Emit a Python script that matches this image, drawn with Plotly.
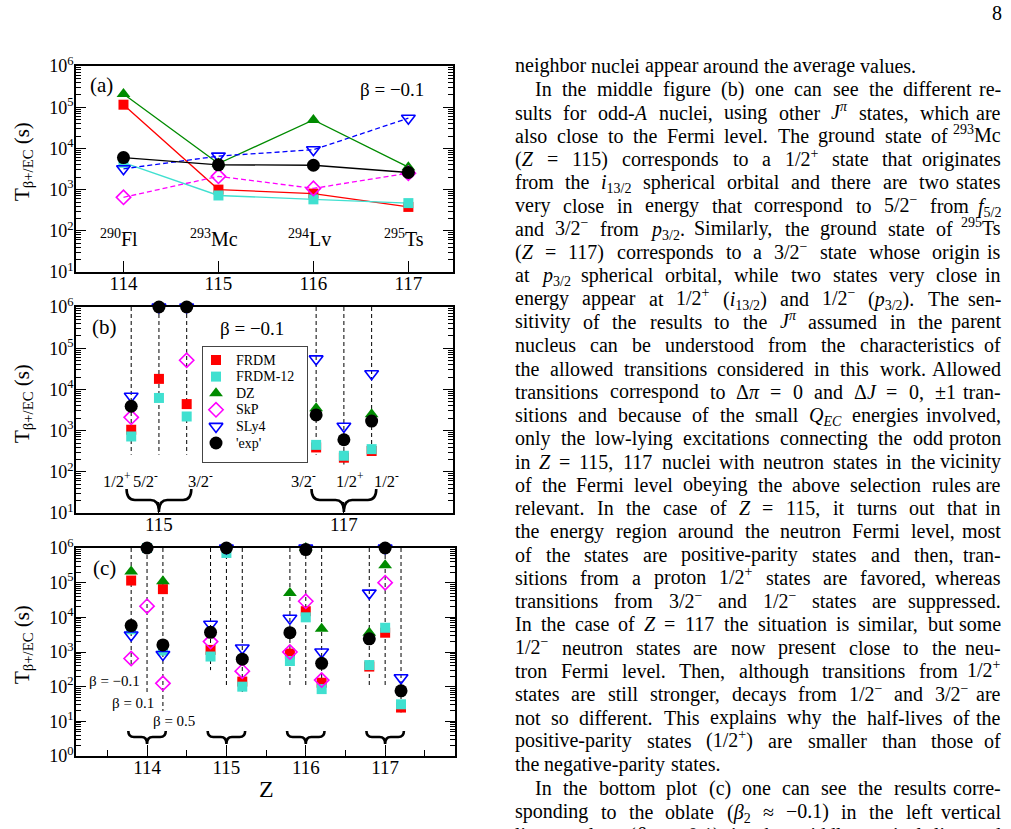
import plotly.graph_objects as go

W, H = 1011, 829
FONT = "Liberation Serif"

# ---------------- data ----------------
series_names = ["FRDM", "FRDM-12", "DZ", "SkP", "SLy4", "'exp'"]

# panel (a): beta = -0.1, ground states
Z_a = [114, 115, 116, 117]
nuclei_a = ["<sup>290</sup>Fl", "<sup>293</sup>Mc", "<sup>294</sup>Lv", "<sup>295</sup>Ts"]
a_FRDM = [1.15e5, 1.0e3, 8.0e2, 3.8e2]
a_FRDM12 = [4.5e3, 7.2e2, 5.8e2, 4.7e2]
a_DZ = [2.1e5, 4.3e3, 4.9e4, 3.5e3]
a_SkP = [6.5e2, 2.1e3, 1.07e3, 2.5e3]
a_SLy4 = [3.2e3, 6.5e3, 9.3e3, 5.4e4]
a_exp = [6.0e3, 4.0e3, 3.9e3, 2.6e3]

# panel (b): beta = -0.1, other J^pi states of odd-A nuclei
b_x = [114.7, 115.0, 115.3, 116.7, 117.0, 117.3]
b_states = ["1/2<sup>+</sup>", "5/2<sup>-</sup>", "3/2<sup>-</sup>",
            "3/2<sup>-</sup>", "1/2<sup>+</sup>", "1/2<sup>-</sup>"]
b_FRDM = [1.05e3, 1.8e4, 4.4e3, 3.9e2, 2.2e2, 3.2e2]
b_FRDM12 = [7.2e2, 6.2e3, 2.2e3, 4.5e2, 2.45e2, 3.55e2]
b_DZ = [None, None, None, 3.5e3, None, 2.5e3]
b_SkP = [2.1e3, None, 5.1e4, None, None, None]
b_SLy4 = [6.8e3, 1e6, 1e6, 5.5e4, 1.27e3, 2.4e4]
b_exp = [3.9e3, 1e6, 1e6, 2.4e3, 6.0e2, 1.7e3]
b_line_low = [260, 260, 260, 260, 150, 320]
b_groups = [115, 117]

# panel (c): beta = -0.1, 0.1, 0.5
c_x = [113.8, 114.0, 114.2, 114.8, 115.0, 115.2,
       115.8, 116.0, 116.2, 116.8, 117.0, 117.2]
c_FRDM = [1.15e5, None, 6.5e4, 1.15e3, None, 1.4e2, 9.0e2, 1.5e4, 1.3e2, 3.8e2, 3.6e3, 25]
c_FRDM12 = [4.5e3, 1e6, 1.1e3, 7.4e2, 7.2e5, 1.0e2, 5.5e2, 1.0e4, 85, 4.2e2, 5.0e3, 31]
c_DZ = [2.1e5, None, 1.1e5, None, None, None, 5.0e4, 1e6, 4.7e3, 3.6e3, 3.2e5, None]
c_SkP = [6.5e2, 2.1e4, 1.25e2, 2.0e3, None, 2.8e2, 1.0e3, 2.9e4, 1.55e2, None, 1.0e5, None]
c_SLy4 = [3.1e3, None, 8.5e2, 6.3e3, 1e6, 1.3e3, 9.4e3, 1e6, 1.0e3, 5.0e4, 1e6, 1.8e2]
c_exp = [5.8e3, 1e6, 1.6e3, 3.7e3, 1e6, 6.2e2, 3.6e3, 9.0e5, 4.7e2, 2.4e3, 1e6, 76]
c_line_low = [380, 70, 20, 300, 100, 70, 100, 100, 90, 100, 100, 18]
c_groups = [114, 115, 116, 117]
c_beta_labels = ["β = −0.1", "β = 0.1", "β = 0.5"]

# ---------------- styles ----------------
styles = {
    "FRDM": dict(symbol="square", color="#ff0000", size=10, dash="solid"),
    "FRDM-12": dict(symbol="square", color="#40e0d0", size=10, dash="solid"),
    "DZ": dict(symbol="triangle-up", color="#008b00", size=12, dash="solid"),
    "SkP": dict(symbol="diamond-open", color="#ff00ff", size=11, dash="5px,3px"),
    "SLy4": dict(symbol="triangle-down-open", color="#0000ff", size=12, dash="5px,3px"),
    "'exp'": dict(symbol="circle", color="#000000", size=13, dash="solid"),
}


def px_x(x):
    return x / W


def px_y(y):
    return 1 - y / H


fig = go.Figure()


def marker_of(name):
    s = styles[name]
    open_ = "open" in s["symbol"]
    return dict(symbol=s["symbol"], color=s["color"], size=s["size"],
                line=dict(width=1.6 if open_ else 0, color=s["color"]))


# vertical dashed lines (b), (c)
def vlines(xs, lows, xa, ya):
    xx, yy = [], []
    for xv, lo in zip(xs, lows):
        xx += [xv, xv, None]
        yy += [1e6, lo, None]
    fig.add_trace(go.Scatter(x=xx, y=yy, mode="lines", xaxis=xa, yaxis=ya,
                             line=dict(color="black", width=1, dash="4px,3px"),
                             showlegend=False, hoverinfo="skip", cliponaxis=False))


vlines(b_x, b_line_low, "x2", "y2")
vlines(c_x, c_line_low, "x3", "y3")

a_data = [a_FRDM, a_FRDM12, a_DZ, a_SkP, a_SLy4, a_exp]
b_data = [b_FRDM, b_FRDM12, b_DZ, b_SkP, b_SLy4, b_exp]
c_data = [c_FRDM, c_FRDM12, c_DZ, c_SkP, c_SLy4, c_exp]

for name, ys in zip(series_names, a_data):
    s = styles[name]
    fig.add_trace(go.Scatter(x=Z_a, y=ys, mode="lines+markers", xaxis="x", yaxis="y",
                             line=dict(color=s["color"], width=1.3, dash=s["dash"]),
                             marker=marker_of(name), showlegend=False, cliponaxis=False))
for name, ys in zip(series_names, b_data):
    fig.add_trace(go.Scatter(x=b_x, y=ys, mode="markers", xaxis="x2", yaxis="y2",
                             marker=marker_of(name), name=name, showlegend=False,
                             cliponaxis=False))
for name, ys in zip(series_names, c_data):
    fig.add_trace(go.Scatter(x=c_x, y=ys, mode="markers", xaxis="x3", yaxis="y3",
                             marker=marker_of(name), showlegend=False, cliponaxis=False))

# legend of panel (b): one symbol per series, row = series order
for i, name in enumerate(series_names):
    fig.add_trace(go.Scatter(x=[0], y=[i], mode="markers", xaxis="x4", yaxis="y4",
                             marker=marker_of(name), showlegend=False, hoverinfo="skip",
                             cliponaxis=False))


# ---------------- axes ----------------
def xaxis(dom, rng, anchor, tickvals, minor_vals=None):
    d = dict(domain=dom, range=rng, anchor=anchor, showline=True, linecolor="black",
             linewidth=1.6, mirror=True, ticks="inside", ticklen=11, tickwidth=1.2,
             tickcolor="black", tickmode="array", tickvals=tickvals,
             ticktext=[str(v) for v in tickvals],
             tickfont=dict(family=FONT, size=19, color="black"), showgrid=False,
             zeroline=False, automargin=False, ticklabelstandoff=-7)
    if minor_vals:
        d["minor"] = dict(ticks="inside", ticklen=6, tickwidth=1, tickcolor="black",
                          tickmode="array", tickvals=minor_vals, showgrid=False)
    return d


def yaxis(dom, lo, hi, anchor):
    vals = [10 ** k for k in range(lo, hi + 1)]
    text = ["10<sup>%d</sup>" % k for k in range(lo, hi + 1)]
    return dict(type="log", domain=dom, range=[lo, hi], anchor=anchor, showline=True,
                linecolor="black", linewidth=1.6, mirror="allticks", ticks="inside",
                ticklen=10, tickwidth=1.2, tickcolor="black", tickmode="array",
                tickvals=vals, ticktext=text,
                tickfont=dict(family=FONT, size=18, color="black"),
                minor=dict(ticks="inside", ticklen=5, tickwidth=1, tickcolor="black",
                           dtick="D1", showgrid=False),
                showgrid=False, zeroline=False, automargin=False, ticklabelstandoff=-3)


dom_x_ab = [px_x(76), px_x(453)]
dom_x_c = [px_x(76), px_x(455)]
LEG_L, LEG_R, LEG_T, LEG_B, ROW0, ROWH = 203, 307, 347, 462, 360, 16.6
fig.update_layout(
    xaxis=xaxis(dom_x_ab, [113.5, 117.47], "y", Z_a),
    yaxis=yaxis([px_y(272), px_y(66)], 1, 6, "x"),
    xaxis2=xaxis(dom_x_ab, [114.103, 118.18], "y2", b_groups),
    yaxis2=yaxis([px_y(513), px_y(307)], 1, 6, "x2"),
    xaxis3=xaxis(dom_x_c, [113.105, 117.88], "y3", c_groups,
                 minor_vals=[113.5, 114.5, 115.5, 116.5, 117.5]),
    yaxis3=yaxis([px_y(756), px_y(548)], 0, 6, "x3"),
    xaxis4=dict(domain=[px_x(LEG_L), px_x(LEG_R)], range=[-13, LEG_R - LEG_L - 13],
                anchor="y4", showline=True, mirror=True, linecolor="#444444",
                linewidth=1, showticklabels=False, ticks="", showgrid=False,
                zeroline=False, fixedrange=True),
    yaxis4=dict(domain=[px_y(LEG_B), px_y(LEG_T)],
                range=[(LEG_B - ROW0) / ROWH, -(ROW0 - LEG_T) / ROWH],
                anchor="x4", showline=True, mirror=True, linecolor="#444444",
                linewidth=1, showticklabels=False, ticks="", showgrid=False,
                zeroline=False, fixedrange=True),
)

# ---------------- annotations ----------------
ann = []


def txt(text, x, y, size, xref="paper", yref="paper", xanchor="center",
        yanchor="middle", angle=0, family=FONT, **kw):
    ann.append(dict(text=text, x=x, y=y, xref=xref, yref=yref, xanchor=xanchor,
                    yanchor=yanchor, showarrow=False, textangle=angle,
                    font=dict(family=family, size=size, color="black"), **kw))


# legend texts
for i, name in enumerate(series_names):
    txt(name, 18, i, 14, xref="x4", yref="y4", xanchor="left")

# y titles
for yc in [162, 404, 645]:
    txt("T<sub>β+/EC</sub> (s)", px_x(23), px_y(yc), 21, angle=-90)
txt("Z", px_x(266), px_y(789), 24)

# panel labels
txt("(a)", px_x(101), px_y(85), 21)
txt("(b)", px_x(104), px_y(327), 21)
txt("(c)", px_x(104), px_y(568), 21)
txt("β = −0.1", px_x(392), px_y(90), 19)
txt("β = −0.1", px_x(252), px_y(328), 19)

for z, lab in zip(Z_a, nuclei_a):
    txt(lab, z, px_y(238), 20, xref="x", xshift=-4)

b_label_shift = [-14, -13, 14, -13, 6, 15]
for xv, lab, sh in zip(b_x, b_states, b_label_shift):
    txt(lab, xv, px_y(480), 16.5, xref="x2", xshift=sh)

for lab, (cx, cy) in zip(c_beta_labels, [(114.5, 681), (133, 703), (174, 721)]):
    txt(lab, px_x(cx), px_y(cy), 15)

# braces
shapes = []


def brace(xc, half, ytop, ymid, ybot, xref, q):
    xl, xr = xc - half, xc + half
    yt, ym, yb = px_y(ytop), px_y(ymid), px_y(ybot)
    p = (f"M {xl},{yt} Q {xl},{ym} {xl + q},{ym} L {xc - q},{ym} "
         f"Q {xc},{ym} {xc},{yb} Q {xc},{ym} {xc + q},{ym} L {xr - q},{ym} "
         f"Q {xr},{ym} {xr},{yt}")
    shapes.append(dict(type="path", path=p, xref=xref, yref="paper",
                       line=dict(color="black", width=2.6)))


for g in b_groups:
    brace(g, 0.35, 489, 500, 512, "x2", 0.09)
for g in c_groups:
    brace(g, 0.236, 731, 737, 744, "x3", 0.07)

# ---------------- page text (justified column) ----------------
TF = "Liberation Serif"
TS = 20
ROMAN = {" ": 250, "!": 333, "'": 333, "(": 333, ")": 333, "+": 564, ",": 250,
         "-": 333, ".": 250, "/": 278, ":": 278, ";": 278, "=": 564, "?": 444,
         "A": 722, "B": 667, "C": 667, "D": 722, "E": 611, "F": 556, "G": 722,
         "H": 722, "I": 333, "J": 389, "K": 722, "L": 611, "M": 889, "N": 722,
         "O": 722, "P": 556, "Q": 722, "R": 667, "S": 556, "T": 611, "U": 722,
         "V": 722, "W": 944, "X": 722, "Y": 722, "Z": 611,
         "a": 444, "b": 500, "c": 444, "d": 500, "e": 444, "f": 333, "g": 500,
         "h": 500, "i": 278, "j": 278, "k": 500, "l": 278, "m": 778, "n": 500,
         "o": 500, "p": 500, "q": 500, "r": 333, "s": 389, "t": 278, "u": 500,
         "v": 500, "w": 722, "x": 500, "y": 500, "z": 444,
         "Δ": 612, "π": 549, "β": 500, "≈": 549, "±": 564, "−": 564}
ITAL = {"A": 611, "J": 444, "Z": 556, "Q": 722, "E": 611, "C": 667, "i": 278,
        "f": 278, "p": 500, "π": 520, "β": 500}


def word_info(s):
    w, scale, ital, sup, sub = 0.0, 1.0, False, False, False
    i = 0
    while i < len(s):
        if s[i] == "<":
            j = s.index(">", i)
            tag = s[i + 1:j]
            if tag in ("sup", "sub"):
                scale = 0.7
                sup = sup or tag == "sup"
                sub = sub or tag == "sub"
            elif tag in ("/sup", "/sub"):
                scale = 1.0
            elif tag == "i":
                ital = True
            elif tag == "/i":
                ital = False
            i = j + 1
            continue
        ch = s[i]
        cw = ITAL.get(ch, ROMAN.get(ch, 500)) if ital else ROMAN.get(ch, 500)
        w += cw * scale
        i += 1
    return w * TS / 1000.0, sup, sub


lines = [
    (0, 0, "neighbor nuclei appear around the average values."),
    (1, 1, "In the middle figure (b) one can see the different re-"),
    (0, 1, "sults for odd-<i>A</i> nuclei, using other <i>J</i><sup><i>π</i></sup> states, which are"),
    (0, 1, "also close to the Fermi level. The ground state of <sup>293</sup>Mc"),
    (0, 1, "(<i>Z</i> = 115) corresponds to a 1/2<sup>+</sup> state that originates"),
    (0, 1, "from the <i>i</i><sub>13/2</sub> spherical orbital and there are two states"),
    (0, 1, "very close in energy that correspond to 5/2<sup>−</sup> from <i>f</i><sub>5/2</sub>"),
    (0, 1, "and 3/2<sup>−</sup> from <i>p</i><sub>3/2</sub>. Similarly, the ground state of <sup>295</sup>Ts"),
    (0, 1, "(<i>Z</i> = 117) corresponds to a 3/2<sup>−</sup> state whose origin is"),
    (0, 1, "at <i>p</i><sub>3/2</sub> spherical orbital, while two states very close in"),
    (0, 1, "energy appear at 1/2<sup>+</sup> (<i>i</i><sub>13/2</sub>) and 1/2<sup>−</sup> (<i>p</i><sub>3/2</sub>). The sen-"),
    (0, 1, "sitivity of the results to the <i>J</i><sup><i>π</i></sup> assumed in the parent"),
    (0, 1, "nucleus can be understood from the characteristics of"),
    (0, 1, "the allowed transitions considered in this work. Allowed"),
    (0, 1, "transitions correspond to Δ<i>π</i> = 0 and Δ<i>J</i> = 0, ±1 tran-"),
    (0, 1, "sitions and because of the small <i>Q</i><sub><i>EC</i></sub> energies involved,"),
    (0, 1, "only the low-lying excitations connecting the odd proton"),
    (0, 1, "in <i>Z</i> = 115, 117 nuclei with neutron states in the vicinity"),
    (0, 1, "of the Fermi level obeying the above selection rules are"),
    (0, 1, "relevant. In the case of <i>Z</i> = 115, it turns out that in"),
    (0, 1, "the energy region around the neutron Fermi level, most"),
    (0, 1, "of the states are positive-parity states and then, tran-"),
    (0, 1, "sitions from a proton 1/2<sup>+</sup> states are favored, whereas"),
    (0, 1, "transitions from 3/2<sup>−</sup> and 1/2<sup>−</sup> states are suppressed."),
    (0, 1, "In the case of <i>Z</i> = 117 the situation is similar, but some"),
    (0, 1, "1/2<sup>−</sup> neutron states are now present close to the neu-"),
    (0, 1, "tron Fermi level. Then, although transitions from 1/2<sup>+</sup>"),
    (0, 1, "states are still stronger, decays from 1/2<sup>−</sup> and 3/2<sup>−</sup> are"),
    (0, 1, "not so different. This explains why the half-lives of the"),
    (0, 1, "positive-parity states (1/2<sup>+</sup>) are smaller than those of"),
    (0, 0, "the negative-parity states."),
    (1, 1, "In the bottom plot (c) one can see the results corre-"),
    (0, 1, "sponding to the oblate (<i>β</i><sub>2</sub> ≈ −0.1) in the left vertical"),
    (0, 1, "line, prolate (<i>β</i><sub>2</sub> ≈ 0.1) in the middle vertical line and"),
]
COL_L, COL_R, INDENT = 513, 1003, 20
for li, (ind, just, t) in enumerate(lines):
    yy = 66.0 + li * 23.27 if li <= 30 else 788.3 + (li - 31) * 23.4
    left = COL_L + (INDENT if ind else 0)
    words = t.split(" ")
    infos = [word_info(wd) for wd in words]
    total = sum(i[0] for i in infos)
    if just and len(words) > 1:
        gap = (COL_R - left - total) / (len(words) - 1)
    else:
        gap = ROMAN[" "] * TS / 1000.0
    x = left
    for k, (wd, (ww, sup, sub)) in enumerate(zip(words, infos)):
        ysh = (0.153 * TS / 2 if sup else 0) - (0.145 * TS / 2 if sub else 0)
        if just and k == len(words) - 1 and len(words) > 1:
            txt(wd, px_x(COL_R), px_y(yy), TS, xanchor="right", family=TF, yshift=ysh)
        else:
            txt(wd, px_x(x), px_y(yy), TS, xanchor="left", family=TF, yshift=ysh)
        x += ww + gap

txt("8", px_x(997), px_y(13), TS, family=TF)
txt("290", px_x(383), px_y(834), 12, family=TF)
txt("293", px_x(436), px_y(834), 12, family=TF)

fig.update_layout(
    width=W, height=H, margin=dict(l=0, r=0, t=0, b=0),
    paper_bgcolor="white", plot_bgcolor="white",
    annotations=ann, shapes=shapes, showlegend=False,
    font=dict(family=FONT, color="black"),
)

fig.write_html("out.html")
